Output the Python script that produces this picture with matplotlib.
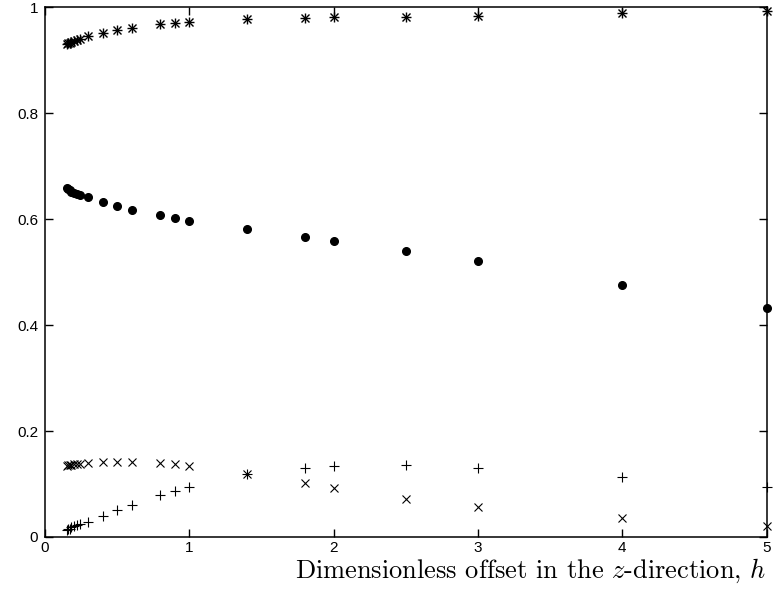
import matplotlib
matplotlib.use("Agg")
import matplotlib.pyplot as plt

# offsets h (the first few are a tight cluster near 0.15-0.25)
h = [0.15, 0.16, 0.17, 0.18, 0.20, 0.22, 0.24,
     0.3, 0.4, 0.5, 0.6, 0.8, 0.9, 1.0, 1.4, 1.8, 2.0, 2.5, 3.0, 4.0, 5.0]

# four quantities
star_vals = [0.931, 0.932, 0.933, 0.934, 0.936, 0.938, 0.940,
             0.945, 0.951, 0.957, 0.960, 0.968, 0.971, 0.972, 0.977, 0.980, 0.981, 0.982, 0.984, 0.989, 0.993]
dot_vals = [0.658, 0.656, 0.654, 0.652, 0.650, 0.648, 0.646,
            0.642, 0.632, 0.625, 0.618, 0.608, 0.602, 0.597, 0.581, 0.567, 0.559, 0.540, 0.520, 0.476, 0.433]
cross_vals = [0.134, 0.135, 0.136, 0.136, 0.137, 0.137, 0.138,
              0.139, 0.142, 0.142, 0.142, 0.140, 0.138, 0.134, 0.118, 0.101, 0.092, 0.072, 0.057, 0.035, 0.021]
plus_vals = [0.013, 0.015, 0.016, 0.018, 0.020, 0.022, 0.024,
             0.028, 0.039, 0.051, 0.060, 0.079, 0.087, 0.095, 0.118, 0.130, 0.134, 0.135, 0.131, 0.114, 0.095]

xticks = [0, 1, 2, 3, 4, 5]
yticks = [0, 0.2, 0.4, 0.6, 0.8, 1]
ytick_labels = ["0", "0.2", "0.4", "0.6", "0.8", "1"]

plt.rcParams['mathtext.fontset'] = 'cm'
plt.rcParams['font.family'] = ['Liberation Sans', 'DejaVu Sans']

fig = plt.figure(figsize=(7.76, 5.96), dpi=100)
ax = fig.add_axes([0.058, 0.099, 0.930, 0.889])

# gnuplot style asterisk = plus + cross on top of each other
ax.plot(h, star_vals, ls='none', marker='+', ms=6.5, mew=1.0, color='k', clip_on=False)
ax.plot(h, star_vals, ls='none', marker='x', ms=5.5, mew=1.0, color='k', clip_on=False)
ax.plot(h, dot_vals, ls='none', marker='o', ms=5.5, color='k', clip_on=False)
ax.plot(h, cross_vals, ls='none', marker='x', ms=5.5, mew=0.8, color='k', clip_on=False)
ax.plot(h, plus_vals, ls='none', marker='+', ms=6.5, mew=0.8, color='k', clip_on=False)

ax.set_xlim(0, 5)
ax.set_ylim(0, 1)
ax.set_xticks(xticks)
ax.set_xticklabels([str(t) for t in xticks])
ax.set_yticks(yticks)
ax.set_yticklabels(ytick_labels)
ax.tick_params(direction='in', length=6, width=1, top=True, right=True,
               labelsize=11, pad=5)
ax.tick_params(axis='x', pad=3)
for s in ax.spines.values():
    s.set_linewidth(1.1)

fig.text(0.988, 0.042, r"Dimensionless offset in the $z$-direction, $h$",
         ha='right', va='center', fontsize=19, family='cmr10')

fig.savefig("out.png", dpi=100)
